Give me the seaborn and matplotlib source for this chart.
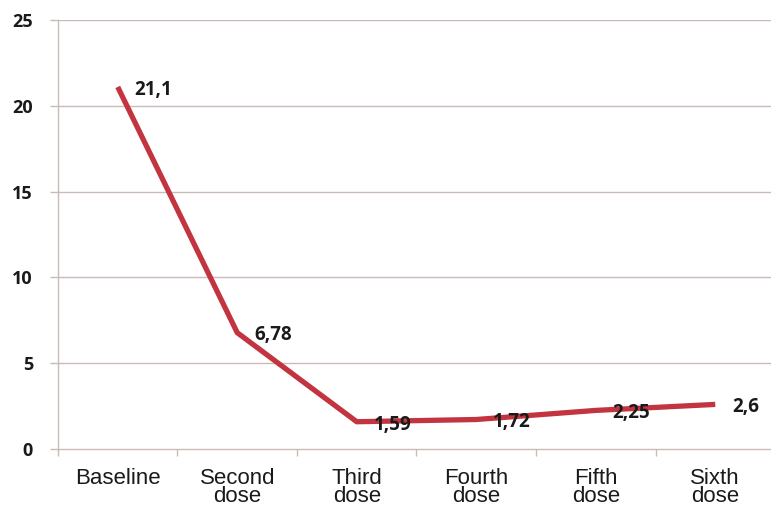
import matplotlib
matplotlib.use("Agg")
import matplotlib.pyplot as plt
import seaborn as sns
import pandas as pd
import numpy as np

categories = ["Baseline", "Second\ndose", "Third\ndose", "Fourth\ndose", "Fifth\ndose", "Sixth\ndose"]
values = [21.1, 6.78, 1.59, 1.72, 2.25, 2.6]
value_labels = ["21,1", "6,78", "1,59", "1,72", "2,25", "2,6"]
y_ticks = [0, 5, 10, 15, 20, 25]

sns.set_theme(style="white")
plt.rcParams['font.family'] = ['Liberation Sans', 'DejaVu Sans']

df = pd.DataFrame({"pos": np.arange(len(categories)), "value": values})

fig = plt.figure(figsize=(7.71, 5.11), dpi=100)
ax = fig.add_axes([0.0752, 0.1213, 0.93, 0.8395])

grid_color = "#c9bcb6"
for y in y_ticks[1:]:
    ax.axhline(y, color=grid_color, lw=1.0, zorder=0)

sns.lineplot(data=df, x="pos", y="value", ax=ax, color="#c2343f", linewidth=3.8,
             solid_capstyle="butt", solid_joinstyle="miter", zorder=3)

for i, (v, lab) in enumerate(zip(values, value_labels)):
    ax.annotate(lab, (i, v), xytext=(12, -2), textcoords="offset points",
                ha="left", va="center", fontsize=13.5, fontweight="bold",
                family=["Open Sans", "DejaVu Sans"], color="#1a1a1a", zorder=4)

ax.set_xlim(-0.5, 5.5)
ax.set_ylim(0, 25)
ax.set_yticks(y_ticks)
ax.set_yticklabels([str(t) for t in y_ticks], fontsize=13, fontweight="bold",
                   family=["Open Sans", "DejaVu Sans"], color="#1a1a1a")
ax.set_xticks(np.arange(len(categories)))
ax.set_xticklabels(categories, fontsize=16, color="#1a1a1a", linespacing=0.8)
ax.set_xticks(np.arange(len(categories) + 1) - 0.5, minor=True)
ax.tick_params(axis="x", which="major", length=0, pad=14)
ax.tick_params(axis="x", which="minor", length=5, color=grid_color, direction="out", width=1)
ax.tick_params(axis="y", which="major", length=6, color=grid_color, direction="out", width=1, pad=12)
ax.xaxis.set_ticks_position("bottom")
ax.yaxis.set_ticks_position("left")
ax.set_xlabel("")
ax.set_ylabel("")

for s in ["top", "right"]:
    ax.spines[s].set_visible(False)
for s in ["left", "bottom"]:
    ax.spines[s].set_color(grid_color)
    ax.spines[s].set_linewidth(1.0)

fig.savefig("out.png", dpi=100)
